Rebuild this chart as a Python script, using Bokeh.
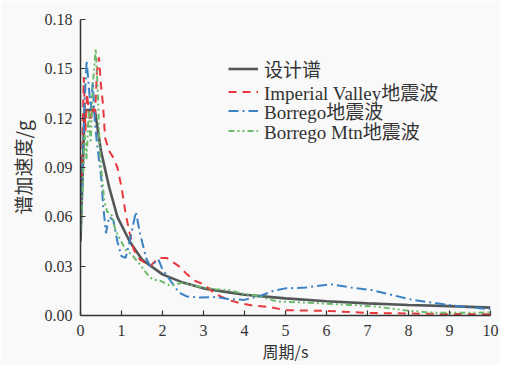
from bokeh.plotting import figure
from bokeh.models import FixedTicker, Legend, LegendItem
from bokeh.embed import file_html
from bokeh.resources import INLINE

# Design spectrum
t_design = [0, 0.1, 0.2, 0.35, 0.5, 0.7, 0.9, 1.2, 1.5, 2.0, 2.5, 3.0, 3.5, 4.0, 5.0, 6.0, 7.0, 8.0, 9.0, 10.0]
sa_design = [0.045, 0.125, 0.125, 0.125, 0.100, 0.078, 0.060, 0.045, 0.034, 0.025, 0.020, 0.0165, 0.0145, 0.0126, 0.0104, 0.0087, 0.0074, 0.0064, 0.0057, 0.0048]

# Imperial Valley
t_iv = [0, 0.04, 0.08, 0.12, 0.16, 0.2, 0.25, 0.3, 0.35, 0.4, 0.45, 0.5, 0.55, 0.6, 0.7, 0.8, 0.9, 1.0, 1.1, 1.2, 1.3, 1.45,
        1.7, 1.9, 2.1, 2.4, 2.6, 2.8, 3.0, 3.3, 3.6, 3.9, 4.2, 4.6, 5.0, 5.5, 6.0, 7.0, 8.0, 9.0, 10.0]
sa_iv = [0.050, 0.095, 0.145, 0.112, 0.135, 0.125, 0.118, 0.128, 0.120, 0.148, 0.157, 0.140, 0.128, 0.108, 0.100, 0.096, 0.090, 0.078, 0.062, 0.050, 0.040, 0.034,
         0.030, 0.035, 0.035, 0.030, 0.025, 0.021, 0.019, 0.013, 0.0095, 0.0075, 0.006, 0.0052, 0.0032, 0.003, 0.0028, 0.0016, 0.0012, 0.0009, 0.0008]

# Borrego
t_bo = [0, 0.05, 0.1, 0.15, 0.2, 0.25, 0.3, 0.35, 0.4, 0.45, 0.5, 0.55, 0.62, 0.7, 0.8, 0.9, 1.0, 1.1, 1.2, 1.35, 1.45, 1.6, 1.7, 1.9, 2.0,
        2.2, 2.4, 2.6, 2.9, 3.3, 3.6, 4.0, 4.4, 4.7, 5.0, 5.5, 6.1, 6.6, 7.1, 7.6, 8.1, 8.7, 9.3, 10.0]
sa_bo = [0.050, 0.090, 0.130, 0.155, 0.140, 0.125, 0.142, 0.118, 0.105, 0.095, 0.085, 0.068, 0.050, 0.060, 0.058, 0.045, 0.036, 0.035, 0.045, 0.063, 0.050, 0.035, 0.030, 0.034, 0.028,
         0.021, 0.014, 0.0115, 0.011, 0.0112, 0.010, 0.0095, 0.012, 0.015, 0.0165, 0.017, 0.019, 0.017, 0.0155, 0.0125, 0.0095, 0.0074, 0.0054, 0.0038]

# Borrego Mtn
t_bm = [0, 0.05, 0.1, 0.15, 0.2, 0.25, 0.3, 0.37, 0.42, 0.47, 0.52, 0.58, 0.65, 0.75, 0.85, 0.95, 1.1, 1.25, 1.45, 1.6, 1.75, 1.95, 2.2, 2.5, 2.8,
        3.0, 3.3, 3.6, 4.0, 4.3, 4.8, 5.5, 6.0, 6.6, 7.2, 7.9, 8.5, 9.0, 10.0]
sa_bm = [0.052, 0.075, 0.110, 0.095, 0.125, 0.105, 0.140, 0.162, 0.138, 0.100, 0.085, 0.070, 0.063, 0.062, 0.052, 0.047, 0.040, 0.037, 0.031, 0.026, 0.022, 0.021, 0.018, 0.020, 0.018,
         0.017, 0.016, 0.0155, 0.013, 0.012, 0.0085, 0.0078, 0.0072, 0.0064, 0.0054, 0.0032, 0.0018, 0.0016, 0.0018]

x_ticks = list(range(0, 11))
y_ticks = [0.0, 0.03, 0.06, 0.09, 0.12, 0.15, 0.18]
y_labels = {0.0: "0.00", 0.03: "0.03", 0.06: "0.06", 0.09: "0.09", 0.12: "0.12", 0.15: "0.15", 0.18: "0.18"}
legend_labels = ["设计谱", "Imperial Valley地震波", "Borrego地震波", "Borrego Mtn地震波"]

SERIF = "'Liberation Serif', 'Noto Sans CJK SC', serif"
CJK = "'Noto Sans CJK SC', 'Liberation Serif', sans-serif"
BG = "#f9f9f9"

p = figure(width=500, height=365, x_range=(0, 10), y_range=(0, 0.18),
           output_backend="svg", toolbar_location=None,
           min_border_left=80, min_border_right=10, min_border_top=19, min_border_bottom=46)
p.background_fill_color = BG
p.border_fill_color = BG
p.outline_line_color = None
p.grid.visible = False

r_d = p.line(t_design, sa_design, line_color="#525757", line_width=2.6)
r_iv = p.line(t_iv, sa_iv, line_color="#e8383d", line_width=2, line_dash="8 6")
r_bo = p.line(t_bo, sa_bo, line_color="#3b82c4", line_width=2, line_dash="10 4 2 4")
r_bm = p.line(t_bm, sa_bm, line_color="#6cbb6a", line_width=2, line_dash="6 3 2 3 2 3")

for ax in (p.xaxis[0], p.yaxis[0]):
    ax.axis_line_color = "#333333"
    ax.axis_line_width = 1.5
    ax.major_tick_line_color = "#333333"
    ax.major_tick_line_width = 1.2
    ax.major_tick_in = 5
    ax.major_tick_out = 0
    ax.minor_tick_line_color = None
    ax.major_label_text_font = SERIF
    ax.major_label_text_font_size = "16px"
    ax.major_label_text_color = "#333333"
    ax.axis_label_text_font = CJK
    ax.axis_label_text_font_style = "normal"
    ax.axis_label_text_color = "#333333"

p.xaxis.axis_label_text_font_size = "16px"
p.yaxis.axis_label_text_font_size = "19px"
p.xaxis.ticker = FixedTicker(ticks=x_ticks)
p.yaxis.ticker = FixedTicker(ticks=y_ticks)
p.yaxis.major_label_overrides = y_labels
p.xaxis.axis_label = "周期/s"
p.yaxis.axis_label = "谱加速度/g"
p.xaxis.major_label_standoff = 9
p.yaxis.major_label_standoff = 8
p.xaxis.axis_label_standoff = 0
p.yaxis.axis_label_standoff = 6

renderers = [r_d, r_iv, r_bo, r_bm]
row_y = [233, 210, 191, 171]
for lab, r, y in zip(legend_labels, renderers, row_y):
    lg = Legend(items=[LegendItem(label=lab, renderers=[r])], location=(148, y))
    lg.background_fill_alpha = 0
    lg.border_line_color = None
    lg.label_text_font = SERIF
    lg.label_text_font_size = "19px"
    lg.label_text_color = "#333333"
    lg.glyph_width = 30
    lg.glyph_height = 17
    lg.label_height = 17
    lg.padding = 0
    lg.margin = 0
    lg.label_standoff = 6
    p.add_layout(lg, "center")

open("out.html", "w").write(file_html(p, INLINE))
